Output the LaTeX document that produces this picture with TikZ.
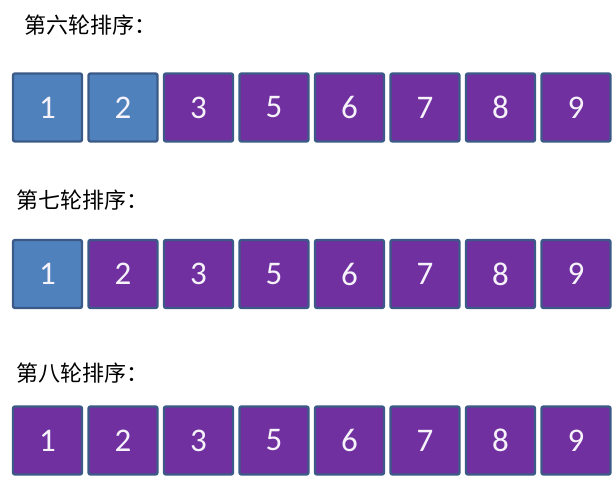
\documentclass[tikz,border=0pt]{standalone}
\usepackage{fontspec}
\setmainfont{Carlito}
\newfontfamily\cjk{Noto Sans CJK SC}[Scale=1.0]
\usepackage{tikz}
\definecolor{cellblue}{HTML}{4F81BD}
\definecolor{cellpurple}{HTML}{7030A0}
\definecolor{cellline}{HTML}{3C5A87}
\definecolor{celltext}{HTML}{F6F2FA}
\tikzset{
  every picture/.style={x=1pt, y=-1pt, line join=round},
  cell/.style={draw=cellline, line width=2.4pt, rounded corners=2pt,
    minimum width=69pt, minimum height=68pt, inner sep=0pt,
    text=celltext, font=\fontsize{33}{35}\selectfont},
  done/.style={cell, fill=cellblue},
  todo/.style={cell, fill=cellpurple},
  roundlabel/.style={anchor=west, inner sep=0pt, font=\cjk\fontsize{22}{25}\selectfont},
}
\begin{document}
\begin{tikzpicture}
\useasboundingbox (0,0) rectangle (616,477);
% round labels
\node[roundlabel] (lab6) at (24,25) {第六轮排序：};
\node[roundlabel] (lab7) at (16,200) {第七轮排序：};
\node[roundlabel] (lab8) at (16,373) {第八轮排序：};
% round 6
\foreach \v [count=\i] in {1,2,3,5,6,7,8,9} {
  \ifnum\i<3 \def\kind{done}\else\def\kind{todo}\fi
  \node[\kind] (r6c\i) at ({47.5+75.5*(\i-1)},107.5) {\v};
}
% round 7
\foreach \v [count=\i] in {1,2,3,5,6,7,8,9} {
  \ifnum\i<2 \def\kind{done}\else\def\kind{todo}\fi
  \node[\kind] (r7c\i) at ({47.5+75.5*(\i-1)},274) {\v};
}
% round 8
\foreach \v [count=\i] in {1,2,3,5,6,7,8,9} {
  \node[todo] (r8c\i) at ({47.5+75.5*(\i-1)},440.5) {\v};
}
\end{tikzpicture}
\end{document}
